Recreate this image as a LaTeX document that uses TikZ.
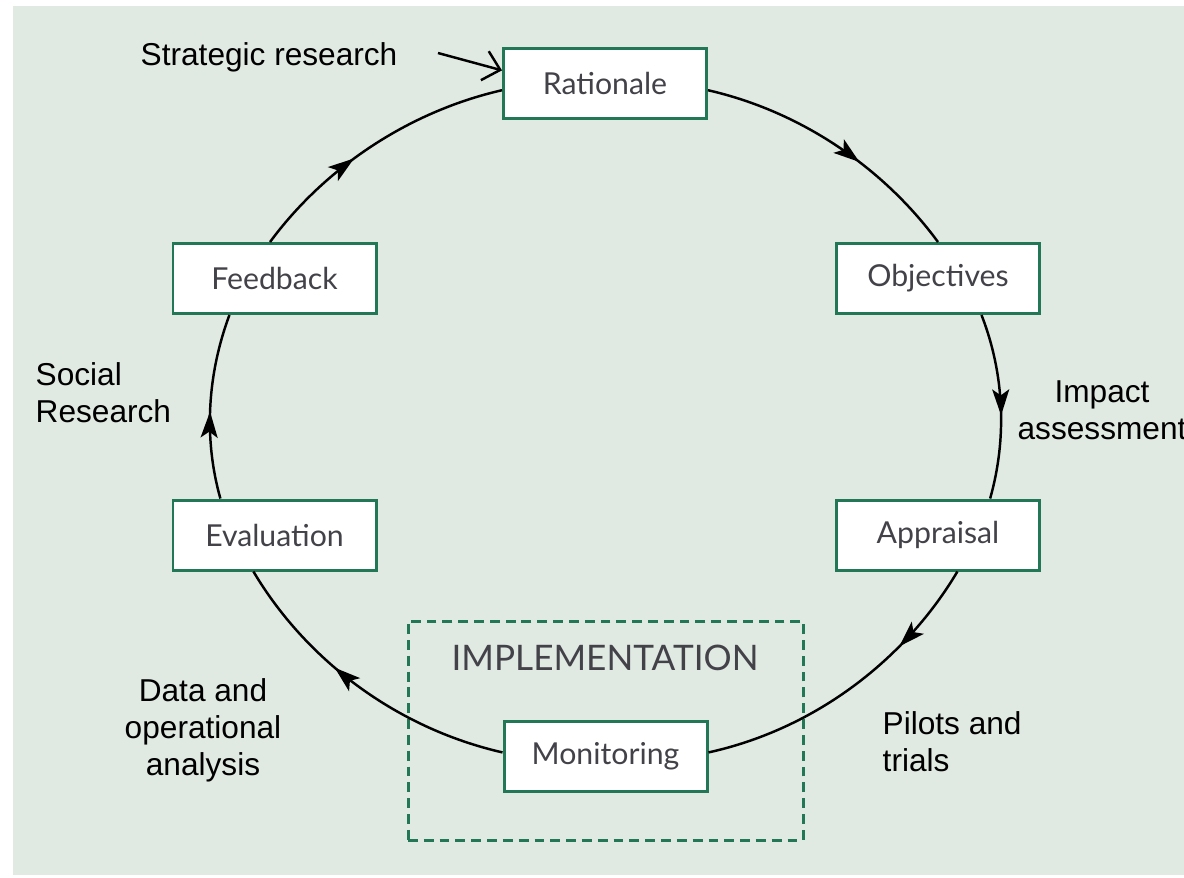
\documentclass[tikz,border=0pt]{standalone}
\usepackage{fontspec}
\setmainfont{Liberation Sans}
\newfontfamily\stagefont{Lato}
\usetikzlibrary{arrows.meta, positioning, decorations.markings}

\definecolor{panel}{RGB}{224,233,226}
\definecolor{boxgreen}{RGB}{34,120,86}
\definecolor{stagetext}{RGB}{66,66,72}

\tikzset{
  stage/.style={draw=boxgreen, line width=0.85pt, fill=white,
    minimum width=2.03cm, minimum height=0.7cm,
    font=\stagefont\fontsize{8.6}{11}\selectfont, text=stagetext},
  implbox/.style={draw=boxgreen, line width=0.85pt, dash pattern=on 2.8pt off 1.7pt,
    minimum width=3.95cm, minimum height=2.19cm, inner sep=0pt},
  loopline/.style={line width=0.7pt},
  tipat/.style={postaction={decorate}, decoration={markings,
    mark=at position #1 with {\arrow{Stealth[length=2.6mm, width=1.7mm, inset=0.6mm]}}}},
  note/.style={font=\fontsize{9}{10.5}\selectfont, inner sep=0pt}
}

\begin{document}
\begin{tikzpicture}
  % Frame and background
  \clip (0,0) rectangle (11.84,-8.77);
  \fill[panel] (0.13,-0.06) rectangle (11.84,-8.75);

  % Stage centres
  \coordinate (c-rat) at (6.05,-0.83);
  \coordinate (c-obj) at (9.38,-2.785);
  \coordinate (c-app) at (9.38,-5.35);
  \coordinate (c-mon) at (6.055,-7.56);
  \coordinate (c-eval) at (2.745,-5.35);
  \coordinate (c-fb) at (2.745,-2.785);

  % Implementation frame
  \node[implbox] (impl) at (6.055,-7.305) {};
  \node[font=\stagefont\fontsize{10}{12}\selectfont, text=stagetext] (impltitle) at (6.05,-6.58) {IMPLEMENTATION};

  % Stages
  \foreach \name/\txt in {rat/Rationale, obj/Objectives, app/Appraisal,
                          mon/Monitoring, eval/Evaluation, fb/Feedback} {
    \node[stage] (\name) at (c-\name) {\txt};
  }

  % Policy cycle
  \draw[loopline, tipat=0.6]  (rat.-4) .. controls +(0.96,-0.22) and +(-0.53,0.72) .. (obj.north);
  \draw[loopline, tipat=0.55] (obj.-40) .. controls +(0.23,-0.59) and +(0.17,0.60) .. (app.35);
  \draw[loopline, tipat=0.3]  (app.-62) .. controls +(-0.51,-0.86) and +(1.09,0.24) .. (mon.2);
  \draw[loopline, tipat=0.6]  (mon.178) .. controls +(-1.09,0.25) and +(0.51,-0.86) .. (eval.-120);
  \draw[loopline, tipat=0.47] (eval.146) .. controls +(-0.17,0.60) and +(-0.22,-0.59) .. (fb.219);
  \draw[loopline, tipat=0.42] (fb.97) .. controls +(0.53,0.72) and +(-0.96,-0.22) .. (rat.184);

  % Research inputs
  \node[note, anchor=base west] (strat) at (1.40,-0.65) {Strategic research};
  \coordinate (strat-tail) at (4.38,-0.53);
  \draw[line width=0.7pt, -{Straight Barb[length=1.6mm, width=3mm]}] (strat-tail) -- (rat.173);

  \node[note, align=left, anchor=west] (social) at (0.35,-3.93) {Social\\Research};
  \node[note, align=center] (impact) at (11.02,-4.10) {Impact\\assessment};
  \node[note, align=left, anchor=west] (pilots) at (8.82,-7.42) {Pilots and\\trials};
  \node[note, align=center] (data) at (2.03,-7.30) {Data and\\operational\\analysis};
\end{tikzpicture}
\end{document}
